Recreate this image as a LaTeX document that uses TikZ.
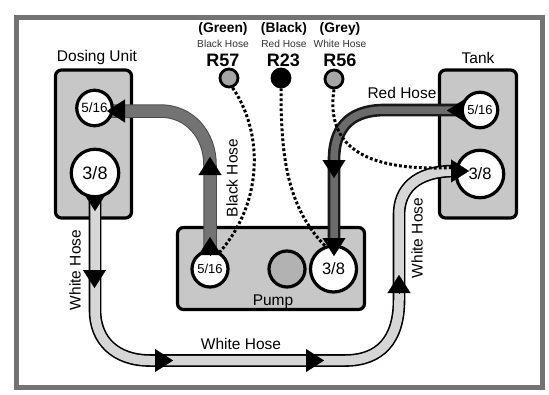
\documentclass[tikz,border=0pt]{standalone}
\usepackage{fontspec}
\setmainfont{Liberation Sans}
\usetikzlibrary{arrows.meta, backgrounds}
\tikzset{
  unitbox/.style={draw, line width=3.2pt, rounded corners=6pt, fill=black!22},
  port/.style={circle, draw, line width=3.2pt, fill=white, inner sep=0pt},
  relay/.style={circle, draw, line width=2.8pt, fill=black!35, inner sep=0pt, minimum size=18pt},
  whitehose/.style={draw=black, line width=1.6pt, double=black!16, double distance=9.5pt},
  blackhose/.style={draw=black!70, line width=1pt, double=black!55, double distance=11.5pt},
  redhose/.style={draw=black!90, line width=2.6pt, double=black!58, double distance=7.5pt},
  sensewire/.style={line width=3pt, dash pattern=on 2.8pt off 2.2pt},
  flow/.style={line width=0.1pt, -{Triangle[length=18pt, width=23pt]}},
  lab/.style={font=\fontsize{15.5}{17}\selectfont, inner sep=0pt},
  colourlab/.style={font=\fontsize{13.8}{15}\selectfont\bfseries, inner sep=0pt},
  hoselab/.style={font=\fontsize{10.2}{12}\selectfont, text=black!80, inner sep=0pt},
  relaylab/.style={font=\fontsize{18}{20}\selectfont\bfseries, inner sep=0pt},
}
\begin{document}
\begin{tikzpicture}[x=1pt, y=-1pt]
  \useasboundingbox (0,0) rectangle (549,394);
  \node[draw=black!55, line width=4.4pt, minimum width=526pt, minimum height=370pt, inner sep=0pt] (frame) at (279.3,202.5) {};
  % units
  \begin{scope}[on background layer]
    \node[unitbox, minimum width=76pt, minimum height=148pt] (dosing) at (93.5,144) {};
    \node[unitbox, minimum width=77pt, minimum height=148pt] (tank) at (478,144) {};
    \node[unitbox, minimum width=187pt, minimum height=82pt] (pump) at (271,268.5) {};
  \end{scope}
  \node[port, minimum size=35.5pt, font=\fontsize{13.5}{15}\selectfont] (dose516) at (94.5,108) {5/16};
  \node[port, minimum size=47.5pt, font=\fontsize{18}{20}\selectfont] (dose38) at (95,173) {3/8};
  \node[port, minimum size=35.5pt, font=\fontsize{13}{15}\selectfont] (tank516) at (480,110) {5/16};
  \node[port, minimum size=47.5pt, font=\fontsize{16.5}{18}\selectfont] (tank38) at (480,174) {3/8};
  \node[port, minimum size=36pt, font=\fontsize{13}{15}\selectfont] (pump516) at (210,269) {5/16};
  \node[port, minimum size=36pt, fill=black!30] (pumpmid) at (287,269) {};
  \node[port, minimum size=46pt, font=\fontsize{16.5}{18}\selectfont] (pump38) at (333.5,269) {3/8};
  \node[relay] (r57) at (229,78) {};
  \node[relay, fill=black] (r23) at (281,78) {};
  \node[relay] (r56) at (334,79) {};
  % hoses
  \begin{scope}[on background layer]
    \coordinate (blackend) at (160,111);
    \coordinate (redend) at (385,110);
    \coordinate (whitelow) at (150,360.5);
    \coordinate (whiteend) at (345,360.5);
    \draw[blackhose] (pump516) -- (210,165) .. controls (210,135) and (190,111) .. (blackend) -- (dose516 |- blackend);
    \draw[redhose] (pump38.north -| 334,0) -- (334,160) .. controls (334,132) and (346,110) .. (redend) -- (tank516);
    \draw[whitehose] (dose38) -- (95,310) .. controls (95,340) and (115,360.5) .. (whitelow) -- (whiteend)
      .. controls (380,360.5) and (399,340) .. (399,300) -- (399,215) .. controls (399,190) and (415,171) .. (455,171);
    \draw[flow] (95,193) -- (95,211);
    \draw[flow] (465,110.5) -- (447,110.5);
  \end{scope}
  % sense lines
  \draw[sensewire] (r57.-70) .. controls (262,130) and (265,200) .. (pump516.60);
  \draw[sensewire] (r23.south) .. controls (281,150) and (285,205) .. (pump38.110);
  \draw[sensewire] (r56.south) .. controls (325,150) and (370,172) .. (tank38.165);
  % arrows on the hoses
  \draw[flow] (124,111) -- (107,111);
  \draw[flow] (210,172) -- (210,157);
  \draw[flow] (210,255) -- (210,237);
  \draw[flow] (334,161) -- (334,178);
  \draw[flow] (334,239) -- (334,256);
  \draw[flow] (94.5,270) -- (94.5,288);
  \draw[flow] (155,360.5) -- (173,360.5);
  \draw[flow] (306,360.5) -- (324,360.5);
  \draw[flow] (399,293) -- (399,275);
  \draw[flow] (451,171) -- (469,171);
  % labels
  \node[lab] (dosinglab) at (97,57.5) {Dosing Unit};
  \node[lab] (tanklab) at (478,57.5) {Tank};
  \node[lab] (pumplab) at (273,302) {Pump};
  \node[lab] (redlab) at (402,93) {Red Hose};
  \node[lab, rotate=90] (blacklab) at (232,178) {Black Hose};
  \node[lab, rotate=90] (whitelab1) at (75,270) {White Hose};
  \node[lab] (whitelab2) at (241,344) {White Hose};
  \node[lab, rotate=90] (whitelab3) at (417,238) {White Hose};
  \node[colourlab] (green) at (223,29) {(Green)};
  \node[colourlab] (black) at (284,29) {(Black)};
  \node[colourlab] (grey) at (340,29) {(Grey)};
  \node[hoselab] (hose57) at (223,43.5) {Black Hose};
  \node[hoselab] (hose23) at (284,43.5) {Red Hose};
  \node[hoselab] (hose56) at (340,43.5) {White Hose};
  \node[relaylab] (name57) at (223,60) {R57};
  \node[relaylab] (name23) at (283.5,60) {R23};
  \node[relaylab] (name56) at (340,60) {R56};
\end{tikzpicture}
\end{document}
